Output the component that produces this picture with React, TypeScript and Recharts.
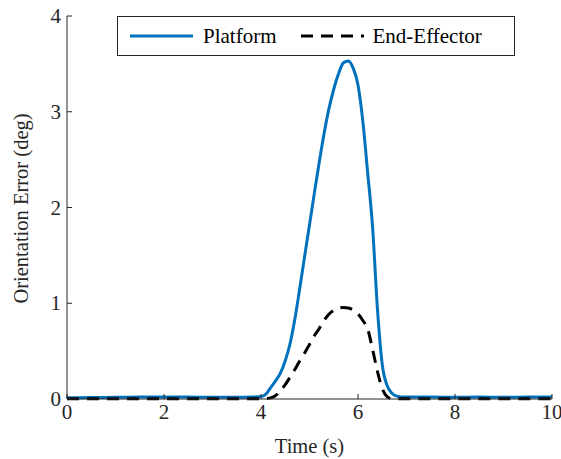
import { LineChart, Line, XAxis, YAxis, Legend, Label } from "recharts";

const times = [
  0, 0.5, 1, 1.5, 2, 2.5, 3, 3.5, 3.8, 4.0, 4.1, 4.2, 4.3, 4.4, 4.5, 4.6, 4.7, 4.8, 4.9, 5.0, 5.1, 5.2, 5.3,
  5.4, 5.5, 5.6, 5.7, 5.8, 5.9, 6.0, 6.1, 6.2, 6.3, 6.4, 6.5, 6.6, 6.7, 6.8, 6.9, 7.0, 7.5, 8, 8.5, 9, 9.5, 10,
];
const platform = [
  0.012, 0.015, 0.017, 0.02, 0.022, 0.02, 0.018, 0.018, 0.02, 0.025, 0.05, 0.12, 0.19, 0.27, 0.4, 0.58, 0.84,
  1.16, 1.49, 1.82, 2.15, 2.47, 2.77, 3.03, 3.235, 3.4, 3.512, 3.531, 3.456, 3.28, 2.9, 2.36, 1.8, 0.95, 0.36,
  0.14, 0.06, 0.03, 0.022, 0.02, 0.02, 0.018, 0.02, 0.019, 0.02, 0.02,
];
const endEffector = [
  0.003, 0.003, 0.003, 0.003, 0.003, 0.003, 0.003, 0.003, 0.003, 0.003, 0.005, 0.012, 0.035, 0.09, 0.15, 0.23,
  0.31, 0.4, 0.48, 0.57, 0.66, 0.735, 0.82, 0.885, 0.925, 0.948, 0.956, 0.95, 0.93, 0.89, 0.82, 0.73, 0.52, 0.29,
  0.11, 0.025, 0.004, 0.003, 0.003, 0.003, 0.003, 0.003, 0.003, 0.003, 0.003, 0.003,
];
const xTicks = [0, 2, 4, 6, 8, 10];
const yTicks = [0, 1, 2, 3, 4];

const data = times.map((t, i) => ({ t, platform: platform[i], endEffector: endEffector[i] }));

const ink = "#262626";
const blue = "#0072BD";
const font = '"Liberation Serif", "Times New Roman", serif';
const tickLen = 5;

function BottomTick({ x, y, payload }: any) {
  return (
    <g>
      <line x1={x} y1={y} x2={x} y2={y - tickLen} stroke={ink} />
      <text x={x} y={y + 20} textAnchor="middle" fill={ink} fontSize={21} fontFamily={font}>
        {payload.value}
      </text>
    </g>
  );
}

function TopTick({ x, y }: any) {
  return <line x1={x} y1={y} x2={x} y2={y + tickLen} stroke={ink} />;
}

function LeftTick({ x, y, payload }: any) {
  return (
    <g>
      <line x1={x} y1={y} x2={x + tickLen} y2={y} stroke={ink} />
      <text x={x - 6} y={y + 7} textAnchor="end" fill={ink} fontSize={21} fontFamily={font}>
        {payload.value}
      </text>
    </g>
  );
}

function RightTick({ x, y }: any) {
  return <line x1={x} y1={y} x2={x - tickLen} y2={y} stroke={ink} />;
}

function LegendBox() {
  return (
    <div
      style={{
        boxSizing: "border-box",
        width: 398,
        height: 40,
        border: `1px solid ${ink}`,
        background: "#fff",
        display: "flex",
        alignItems: "center",
        paddingLeft: 12,
        fontFamily: font,
        fontSize: 21,
        color: "#000",
      }}
    >
      <svg width={63} height={6}>
        <line x1={0} y1={3} x2={63} y2={3} stroke={blue} strokeWidth={3} />
      </svg>
      <span style={{ marginLeft: 10 }}>Platform</span>
      <svg width={63} height={6} style={{ marginLeft: 24 }}>
        <line x1={0} y1={3} x2={63} y2={3} stroke="#000" strokeWidth={3} strokeDasharray="12 8" />
      </svg>
      <span style={{ marginLeft: 9 }}>End-Effector</span>
    </div>
  );
}

export default function App() {
  return (
    <div style={{ position: "absolute", left: 0, top: 0, background: "#fff" }}>
      <LineChart width={561} height={459} data={data} margin={{ top: 16, right: 9, left: 0, bottom: 0 }}>
        <XAxis
          dataKey="t"
          type="number"
          domain={[0, 10]}
          ticks={xTicks}
          height={60}
          tickSize={0}
          tickMargin={0}
          tickLine={false}
          axisLine={{ stroke: ink }}
          tick={<BottomTick />}
        >
          <Label
            content={({ viewBox }: any) => (
              <text
                x={viewBox.x + viewBox.width / 2}
                y={viewBox.y + 54}
                textAnchor="middle"
                fill={ink}
                fontSize={20.5}
                fontFamily={font}
              >
                Time (s)
              </text>
            )}
          />
        </XAxis>
        <XAxis
          xAxisId="top"
          orientation="top"
          dataKey="t"
          type="number"
          domain={[0, 10]}
          ticks={xTicks}
          height={0}
          tickSize={0}
          tickMargin={0}
          tickLine={false}
          axisLine={{ stroke: ink }}
          tick={<TopTick />}
        />
        <YAxis
          type="number"
          domain={[0, 4]}
          ticks={yTicks}
          width={67}
          tickSize={0}
          tickMargin={0}
          tickLine={false}
          axisLine={{ stroke: ink }}
          tick={<LeftTick />}
        >
          <Label
            content={({ viewBox }: any) => {
              const cx = viewBox.x + 21;
              const cy = viewBox.y + viewBox.height / 2 + 1;
              return (
                <text
                  x={cx}
                  y={cy}
                  transform={`rotate(-90 ${cx} ${cy})`}
                  textAnchor="middle"
                  dominantBaseline="central"
                  fill={ink}
                  fontSize={20.5}
                  fontFamily={font}
                >
                  Orientation Error (deg)
                </text>
              );
            }}
          />
        </YAxis>
        <YAxis
          yAxisId="right"
          orientation="right"
          type="number"
          domain={[0, 4]}
          ticks={yTicks}
          width={0}
          tickSize={0}
          tickMargin={0}
          tickLine={false}
          axisLine={{ stroke: ink }}
          tick={<RightTick />}
        />
        <Legend
          layout="vertical"
          align="center"
          verticalAlign="middle"
          wrapperStyle={{ top: 16, left: 117, width: 398, height: 40 }}
          content={() => <LegendBox />}
        />
        <Line
          dataKey="platform"
          name="Platform"
          type="monotone"
          stroke={blue}
          strokeWidth={3}
          dot={false}
          isAnimationActive={false}
        />
        <Line
          dataKey="endEffector"
          name="End-Effector"
          type="monotone"
          stroke="#000"
          strokeWidth={3}
          strokeDasharray="12 8"
          dot={false}
          isAnimationActive={false}
        />
      </LineChart>
    </div>
  );
}
